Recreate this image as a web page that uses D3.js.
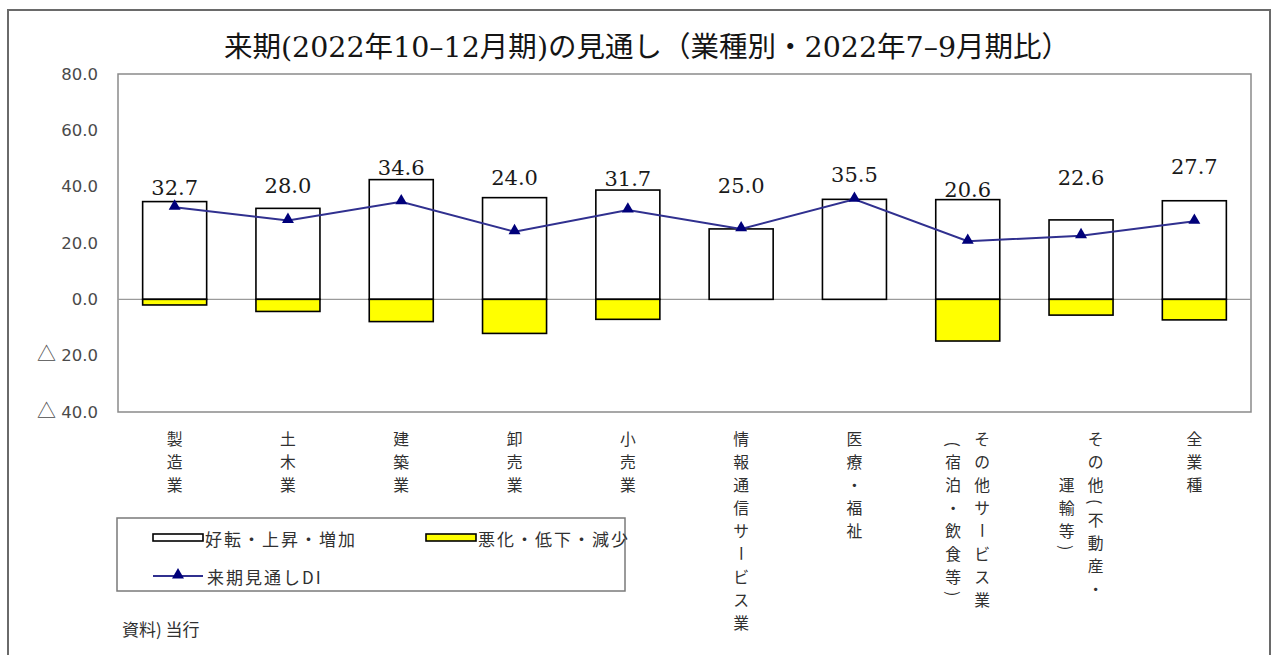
<!DOCTYPE html>
<html><head><meta charset="utf-8">
<script src="https://cdn.jsdelivr.net/npm/d3@7"></script>
<style>body{margin:0;background:#fff;} svg{display:block;}</style>
</head><body>
<svg id="chart" width="1277" height="655"></svg>
<script>
// ---------- data ----------
const title = "来期(2022年10–12月期)の見通し（業種別・2022年7–9月期比）";
const categories = [
  ["製造業"], ["土木業"], ["建築業"], ["卸売業"], ["小売業"],
  ["情報通信サービス業"], ["医療・福祉"],
  ["その他サービス業", "(宿泊・飲食等)"],
  ["その他(不動産・", "運輸等)"],
  ["全業種"]
];
const improve   = [34.7, 32.3, 42.5, 36.1, 38.8, 25.0, 35.5, 35.4, 28.2, 35.0];
const worsen    = [-2.0, -4.3, -7.9, -12.1, -7.1, 0, 0, -14.8, -5.6, -7.3];
const outlookDI = [32.7, 28.0, 34.6, 24.0, 31.7, 25.0, 35.5, 20.6, 22.6, 27.7];
const yTicks = [80, 60, 40, 20, 0, -20, -40];
const yTickLabels = ["80.0", "60.0", "40.0", "20.0", "0.0", "△ 20.0", "△ 40.0"];
const seriesNames = ["好転・上昇・増加", "悪化・低下・減少", "来期見通しDI"];
const sourceNote = "資料) 当行";

// ---------- drawing ----------
const svg = d3.select("#chart");
const W = 1277, H = 655;
const plot = {left: 118, right: 1251, top: 74, bottom: 412};
const labelPos = [39.7, 40.4, 46.6, 43.0, 42.6, 40.3, 44.2, 38.8, 43.2, 47.1]; // data-label centres (value units)
const latinFont = "'DejaVu Serif','Liberation Serif',serif";
const cjkFont = "'Noto Sans CJK JP',sans-serif";

svg.append("rect").attr("x", 0).attr("y", 0).attr("width", W).attr("height", H).attr("fill", "#fff");
// outer frame
svg.append("rect").attr("x", 8).attr("y", 10).attr("width", 1262).attr("height", 720)
  .attr("fill", "none").attr("stroke", "#6a6a6a").attr("stroke-width", 2);

// title: split into Latin / CJK runs so each uses its own font
const tt = svg.append("text").attr("x", 647).attr("y", 57).attr("text-anchor", "middle")
  .attr("font-family", latinFont).attr("font-size", 28.5).attr("fill", "#151515");
title.match(/[\x00-\x7F–−]+|[^\x00-\x7F–−]+/g).forEach(run => {
  const latin = /^[\x00-\x7F–−]+$/.test(run);
  tt.append("tspan").style("font-family", latin ? latinFont : cjkFont).text(run);
});

const x = d3.scaleBand().domain(d3.range(categories.length))
  .range([plot.left, plot.right]).paddingInner(0.435).paddingOuter(0.2175);
const y = d3.scaleLinear().domain([-40, 80]).range([plot.bottom, plot.top]);

// y axis labels
const yAxis = d3.axisLeft(y).tickValues(yTicks).tickFormat((d, i) => yTickLabels[i]).tickSize(0).tickPadding(20);
const ga = svg.append("g").attr("transform", `translate(${plot.left},0)`).call(yAxis);
ga.select(".domain").remove();
ga.selectAll("text").attr("font-family", "'DejaVu Sans',sans-serif")
  .attr("font-size", 16.5).attr("fill", "#4a4a4a")
  .each(function() {
    const s = d3.select(this).text();
    if (s.startsWith("△")) {
      const t = d3.select(this).text("");
      t.append("tspan").attr("font-family", cjkFont).attr("font-size", 19).text("△");
      t.append("tspan").text(s.slice(1));
    }
  });

// plot box
svg.append("rect").attr("x", plot.left).attr("y", plot.top)
  .attr("width", plot.right - plot.left).attr("height", plot.bottom - plot.top)
  .attr("fill", "none").attr("stroke", "#8a8a8a").attr("stroke-width", 1.5);

// zero line
svg.append("line").attr("x1", plot.left).attr("x2", plot.right)
  .attr("y1", y(0)).attr("y2", y(0)).attr("stroke", "#9a9a9a").attr("stroke-width", 1.2);

// bars
const idx = d3.range(categories.length);
svg.append("g").selectAll("rect").data(idx).join("rect")
  .attr("x", i => x(i)).attr("width", x.bandwidth())
  .attr("y", i => y(improve[i])).attr("height", i => y(0) - y(improve[i]))
  .attr("fill", "#fff").attr("stroke", "#000").attr("stroke-width", 1.6);
svg.append("g").selectAll("rect").data(idx.filter(i => worsen[i] < 0)).join("rect")
  .attr("x", i => x(i)).attr("width", x.bandwidth())
  .attr("y", y(0)).attr("height", i => y(worsen[i]) - y(0))
  .attr("fill", "#ffff00").attr("stroke", "#000").attr("stroke-width", 1.6);

// DI line
const cx = i => x(i) + x.bandwidth() / 2;
svg.append("path").datum(idx)
  .attr("d", d3.line().x(i => cx(i)).y(i => y(outlookDI[i])))
  .attr("fill", "none").attr("stroke", "#30308f").attr("stroke-width", 2);
svg.append("g").selectAll("path").data(idx).join("path")
  .attr("transform", i => `translate(${cx(i)},${y(outlookDI[i]) - 1})`)
  .attr("d", d3.symbol(d3.symbolTriangle).size(62)).attr("fill", "#00007a");

// data labels
svg.append("g").selectAll("text").data(idx).join("text")
  .attr("x", i => cx(i)).attr("y", i => y(labelPos[i]))
  .attr("text-anchor", "middle").attr("dominant-baseline", "central")
  .attr("font-family", latinFont).attr("font-size", 21).attr("fill", "#1a1a1a")
  .text(i => outlookDI[i].toFixed(1));

// vertical category labels, one glyph per cell
const step = 23, colGap = 29, labTop = 427;
const unit = ch => "()（）".includes(ch) ? 0.5 : 1;
const gl = svg.append("g").attr("font-family", cjkFont)
  .attr("font-size", 15.8).attr("fill", "#303030");
categories.forEach((cols, i) => {
  const lens = cols.map(c => Array.from(c).reduce((s, ch) => s + unit(ch), 0));
  const maxLen = d3.max(lens);
  cols.forEach((col, j) => {
    const colX = cx(i) + (cols.length - 1) / 2 * colGap - j * colGap;
    let pos = labTop + (maxLen - lens[j]) / 2 * step;
    Array.from(col).forEach(ch => {
      const u = unit(ch);
      const cy = pos + u * step / 2;
      const rot = "()（）ー".includes(ch);
      gl.append("text").attr("text-anchor", "middle").attr("dominant-baseline", "central")
        .attr("transform", `translate(${colX},${cy})` + (rot ? " rotate(90)" : ""))
        .text(ch);
      pos += u * step;
    });
  });
});

// legend
const lg = svg.append("g");
lg.append("rect").attr("x", 117).attr("y", 518).attr("width", 508).attr("height", 73)
  .attr("fill", "#fff").attr("stroke", "#7a7a7a").attr("stroke-width", 1.5);
lg.append("rect").attr("x", 153).attr("y", 534).attr("width", 50).attr("height", 7)
  .attr("fill", "#fff").attr("stroke", "#000").attr("stroke-width", 1.6);
lg.append("text").attr("x", 205).attr("y", 538).attr("dominant-baseline", "central")
  .attr("font-family", cjkFont).attr("font-size", 17).attr("letter-spacing", 2).attr("fill", "#303030").text(seriesNames[0]);
lg.append("rect").attr("x", 426).attr("y", 534).attr("width", 50).attr("height", 7)
  .attr("fill", "#ffff00").attr("stroke", "#000").attr("stroke-width", 1.6);
lg.append("text").attr("x", 478).attr("y", 538).attr("dominant-baseline", "central")
  .attr("font-family", cjkFont).attr("font-size", 17).attr("letter-spacing", 2).attr("fill", "#303030").text(seriesNames[1]);
lg.append("line").attr("x1", 153).attr("x2", 203).attr("y1", 576).attr("y2", 576)
  .attr("stroke", "#30308f").attr("stroke-width", 2);
lg.append("path").attr("transform", "translate(178,575)")
  .attr("d", d3.symbol(d3.symbolTriangle).size(62)).attr("fill", "#00007a");
lg.append("text").attr("x", 207).attr("y", 576).attr("dominant-baseline", "central")
  .attr("font-family", cjkFont).attr("font-size", 17).attr("letter-spacing", 2).attr("fill", "#303030").text(seriesNames[2]);

// source note
svg.append("text").attr("x", 122).attr("y", 628).attr("dominant-baseline", "central")
  .attr("font-family", cjkFont).attr("font-size", 17).attr("fill", "#303030").text(sourceNote);
</script>
</body></html>
